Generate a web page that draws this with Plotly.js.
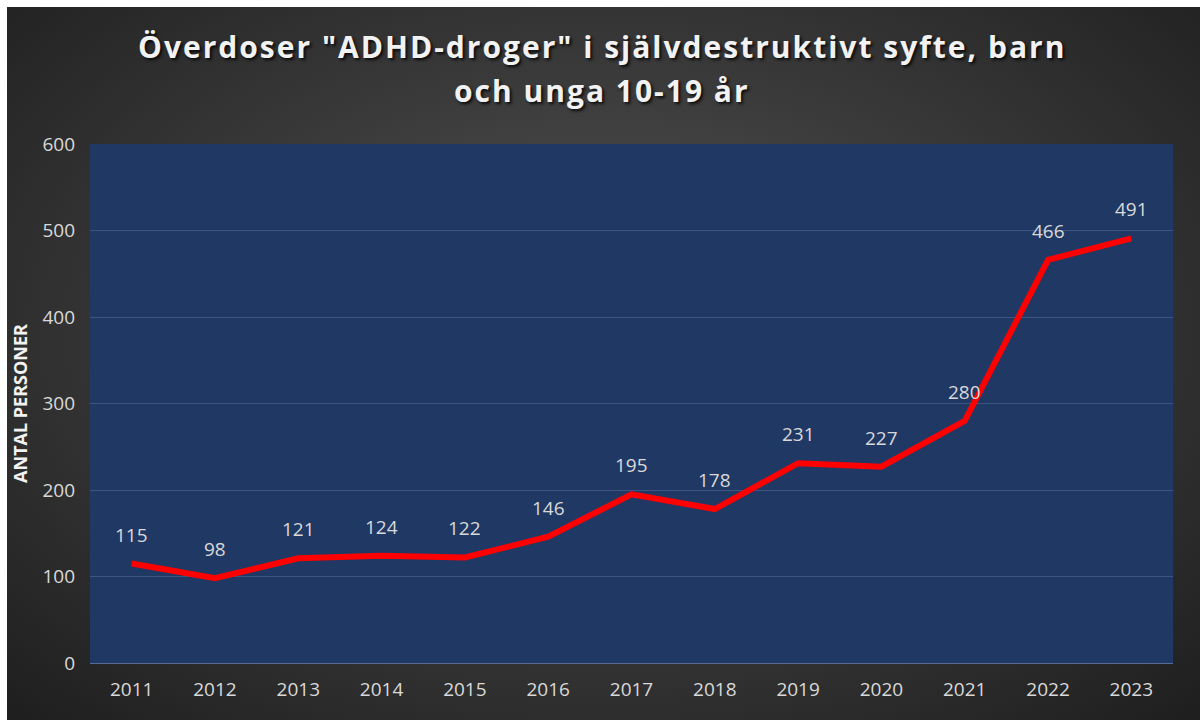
<!DOCTYPE html>
<html>
<head>
<meta charset="utf-8">
<script src="https://cdn.plot.ly/plotly-3.0.1.min.js"></script>
<style>
  html, body { margin:0; padding:0; background:#ffffff; width:1200px; height:720px; overflow:hidden; }
  #wrap { position:absolute; left:7px; top:7px; width:1193px; height:713px;
          background: radial-gradient(ellipse 75% 80% at 50% 45%, #555555 0%, #3a3a3a 45%, #1c1c1c 100%); }
  #chart { width:1193px; height:713px; }
  .annotation[data-index="13"] .annotation-text,
  .annotation[data-index="14"] .annotation-text { letter-spacing: 2px; text-shadow: 2px 2px 3px rgba(0,0,0,0.8); }
</style>
</head>
<body>
<div id="wrap"><div id="chart"></div></div>
<script>
const years = ['2011','2012','2013','2014','2015','2016','2017','2018','2019','2020','2021','2022','2023'];
const values = [115, 98, 121, 124, 122, 146, 195, 178, 231, 227, 280, 466, 491];
const titleLines = ['Överdoser "ADHD-droger" i självdestruktivt syfte, barn', 'och unga 10-19 år'];
const yTitle = 'ANTAL PERSONER';
const yTicks = [0, 100, 200, 300, 400, 500, 600];

const FONT = 'Open Sans, Noto Sans, sans-serif';

const trace = {
  x: years, y: values, type: 'scatter', mode: 'lines',
  line: { color: '#ff0000', width: 6 },
  hoverinfo: 'x+y'
};

const annotations = years.map((yr, i) => ({
  x: i, y: values[i], xref: 'x', yref: 'y',
  text: String(values[i]), showarrow: false,
  yshift: 29, xanchor: 'center', yanchor: 'middle',
  font: { family: FONT, size: 19, color: '#d9d9d9' }
}));
const titleY = [1.187, 1.104];
const titleShift = [-30, -30];
titleLines.forEach((t, k) => annotations.push({
  x: 0.5, y: titleY[k], xref: 'paper', yref: 'paper',
  text: t, showarrow: false, xanchor: 'center', yanchor: 'middle',
  xshift: titleShift[k],
  font: { family: FONT, size: 30, color: '#f2f2f2', weight: 'bold' }
}));

const layout = {
  width: 1193, height: 713,
  paper_bgcolor: 'rgba(0,0,0,0)',
  plot_bgcolor: '#203864',
  margin: { l: 83, r: 27, t: 137, b: 57 },
  showlegend: false,
  xaxis: {
    type: 'category', range: [-0.5, 12.5],
    showgrid: false, zeroline: false,
    showline: true, linecolor: '#5a6a8c', linewidth: 1,
    ticks: '', ticklen: 0, ticklabelstandoff: 9,
    tickfont: { family: FONT, size: 19, color: '#d9d9d9' }
  },
  yaxis: {
    range: [0, 600], tickvals: yTicks, ticktext: yTicks.map(String),
    showgrid: true, gridcolor: '#3d5583', gridwidth: 1,
    zeroline: false, showline: false, ticks: '',
    ticklabelstandoff: 14,
    tickfont: { family: FONT, size: 19, color: '#d9d9d9' },
    title: { text: yTitle, standoff: 10,
      font: { family: FONT, size: 18, color: '#f2f2f2', weight: 'bold' } }
  },
  annotations: annotations
};

Plotly.newPlot('chart', [trace], layout, { displayModeBar: false, staticPlot: true });
</script>
</body>
</html>
